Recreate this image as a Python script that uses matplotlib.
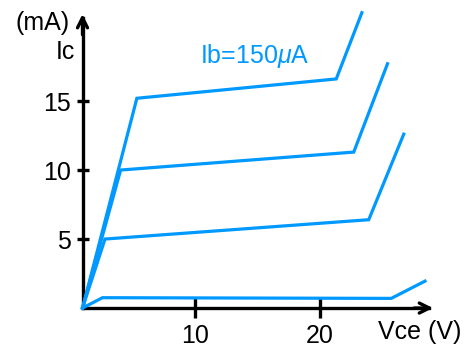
import matplotlib
matplotlib.use("Agg")
import matplotlib.pyplot as plt

########################################################
# DATA (Vce in V, Ic in mA)
########################################################

VCE_0 = [1.0, 2.6, 25.7, 28.4]
IC_0 = [0.0, 0.75, 0.70, 1.95]

VCE_5 = [1.0, 2.8, 23.9, 26.7]
IC_5 = [0.0, 5.0, 6.4, 12.6]

VCE_10 = [1.0, 4.05, 22.7, 25.4]
IC_10 = [0.0, 10.0, 11.3, 17.7]

VCE_15 = [1.0, 5.35, 21.3, 23.35]
IC_15 = [0.0, 15.2, 16.6, 21.4]

X_TICKS = [10, 20]
Y_TICKS = [5, 10, 15]

CURVE_LABEL = r"Ib=150$\mu$A"

########################################################
# STYLE
########################################################

BLUE = "#0099ff"
FONT = "Liberation Sans"
FS = 18

plt.rcParams["font.family"] = [FONT, "DejaVu Sans"]
plt.rcParams["mathtext.fontset"] = "custom"
plt.rcParams["mathtext.rm"] = FONT
plt.rcParams["mathtext.it"] = FONT + ":italic"

X0 = 1.0
X_END = 29.04
Y_END = 21.3

fig = plt.figure(figsize=(4.67, 3.5), dpi=100)
ax = fig.add_axes([0, 0, 1, 1])
ax.set_xlim(-5.6, 31.76)
ax.set_ylim(-3.04, 22.32)

for v, i in [(VCE_0, IC_0), (VCE_5, IC_5), (VCE_10, IC_10), (VCE_15, IC_15)]:
    ax.plot(v, i, color=BLUE, linewidth=2.3, solid_joinstyle="miter",
            clip_on=False, zorder=3)

# axes through the origin
ax.spines["top"].set_visible(False)
ax.spines["right"].set_visible(False)
ax.spines["left"].set_position(("data", X0))
ax.spines["bottom"].set_position(("data", 0))
ax.spines["left"].set_bounds(0, Y_END - 0.3)
ax.spines["bottom"].set_bounds(X0, X_END - 0.3)
for s in ["left", "bottom"]:
    ax.spines[s].set_linewidth(2.4)
    ax.spines[s].set_zorder(2)

ax.set_xticks(X_TICKS)
ax.set_yticks(Y_TICKS)
ax.set_xticklabels([str(t) for t in X_TICKS])
ax.set_yticklabels([str(t) for t in Y_TICKS])
ax.tick_params(axis="x", direction="inout", length=15, width=2.4,
               pad=4, labelsize=FS)
ax.tick_params(axis="y", direction="inout", length=9, width=2.4,
               pad=4, labelsize=FS)

# arrow heads
ax.annotate("", xy=(X0, Y_END), xytext=(X0, Y_END - 1.5),
            arrowprops=dict(arrowstyle="->", lw=2.4, color="black",
                            mutation_scale=18, shrinkA=0, shrinkB=0))
ax.annotate("", xy=(X_END, 0), xytext=(X_END - 1.5, 0),
            arrowprops=dict(arrowstyle="->", lw=2.4, color="black",
                            mutation_scale=18, shrinkA=0, shrinkB=0))

# labels
ax.text(-2.2, 20.65, "(mA)", fontsize=FS, ha="center", va="center")
ax.text(-0.4, 18.55, "Ic", fontsize=FS, ha="center", va="center")
ax.text(28.0, -1.74, "Vce (V)", fontsize=FS, ha="center", va="center")
ax.text(14.8, 17.75, CURVE_LABEL, fontsize=FS, color=BLUE,
        ha="center", va="baseline")

plt.savefig("out.png", dpi=100)
